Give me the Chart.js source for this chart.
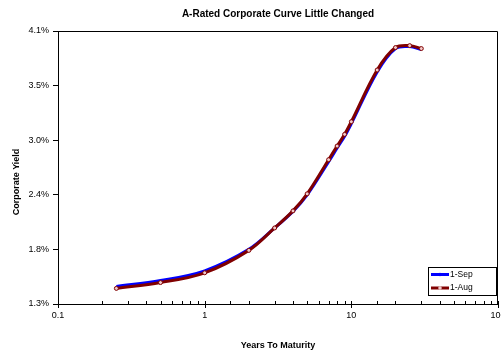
<!DOCTYPE html>
<html>
<head>
<meta charset="utf-8">
<script src="https://cdn.jsdelivr.net/npm/chart.js@4/dist/chart.umd.min.js"></script>
<style>
  html, body { margin: 0; padding: 0; background: #fff; }
  canvas { display: block; }
</style>
</head>
<body>
<canvas id="myChart" width="501" height="354"></canvas>
<script>
// data
const maturities = [0.25, 0.5, 1, 2, 3, 4, 5, 7, 8, 9, 10, 15, 20, 25, 30];
const sepYields = [1.46, 1.52, 1.62, 1.84, 2.06, 2.23, 2.40, 2.74, 2.88, 3.00, 3.13, 3.66, 3.90, 3.92, 3.89];
const augYields = [1.44, 1.50, 1.60, 1.83, 2.06, 2.235, 2.41, 2.76, 2.90, 3.02, 3.15, 3.68, 3.91, 3.93, 3.90];
const seriesLabels = ['1-Sep', '1-Aug'];

const yTickValues = [1.28, 1.84, 2.40, 2.96, 3.52, 4.08];
const yTickLabels = ['1.3%', '1.8%', '2.4%', '3.0%', '3.5%', '4.1%'];
const xLabelledTicks = [0.1, 1, 10, 100];

const fontFamily = "'Liberation Sans', Arial, sans-serif";

const toPoints = (ys) => maturities.map((m, i) => ({ x: m, y: ys[i] }));
const isDecade = (v) => xLabelledTicks.some(t => Math.abs(t - v) < 1e-9 * t);

// box around the plot (top + right edges), x tick marks, y axis title
const plotFrame = {
    id: 'plotFrame',
    beforeDatasetsDraw(chart) {
        const { ctx, chartArea: a } = chart;
        const xs = chart.scales.x;
        ctx.save();
        ctx.strokeStyle = '#000';
        ctx.lineWidth = 1;
        ctx.beginPath();
        ctx.moveTo(Math.round(a.left) + 0.5, Math.round(a.top) + 0.5);
        ctx.lineTo(Math.round(a.right) - 0.5, Math.round(a.top) + 0.5);
        ctx.lineTo(Math.round(a.right) - 0.5, Math.round(a.bottom));
        ctx.stroke();

        // excel style ticks: minor inside, major crossing
        const yb = Math.round(a.bottom);
        ctx.beginPath();
        xs.ticks.forEach(t => {
            const px = Math.round(xs.getPixelForValue(t.value)) + 0.5;
            if (isDecade(t.value)) {
                ctx.moveTo(px, yb - 3);
                ctx.lineTo(px, yb + 4);
            } else {
                ctx.moveTo(px, yb - 3);
                ctx.lineTo(px, yb);
            }
        });
        ctx.stroke();

        ctx.translate(17, 182);
        ctx.rotate(-Math.PI / 2);
        ctx.fillStyle = '#000';
        ctx.font = 'bold 9px ' + fontFamily;
        ctx.textAlign = 'center';
        ctx.textBaseline = 'middle';
        ctx.fillText('Corporate Yield', 0, 0);
        ctx.restore();
    }
};

// legend box inside the plot, bottom right
const boxLegend = {
    id: 'boxLegend',
    afterDraw(chart) {
        const { ctx, chartArea: a } = chart;
        const w = 68, h = 28;
        const x0 = Math.round(a.right) - 70, y0 = Math.round(a.bottom) - 37;
        ctx.save();
        ctx.fillStyle = '#fff';
        ctx.fillRect(x0, y0, w, h);
        ctx.strokeStyle = '#000';
        ctx.lineWidth = 1;
        ctx.strokeRect(x0 + 0.5, y0 + 0.5, w, h);
        ctx.font = '8.5px ' + fontFamily;
        ctx.textBaseline = 'middle';
        chart.data.datasets.forEach((ds, i) => {
            const y = y0 + 7.5 + i * 13.5;
            ctx.strokeStyle = ds.borderColor;
            ctx.lineWidth = 3;
            ctx.beginPath();
            ctx.moveTo(x0 + 3, y);
            ctx.lineTo(x0 + 21, y);
            ctx.stroke();
            ctx.lineWidth = 1;
            ctx.fillStyle = ds.pointBackgroundColor;
            ctx.beginPath();
            ctx.arc(x0 + 12, y, 1.8, 0, Math.PI * 2);
            ctx.fill();
            ctx.fillStyle = '#000';
            ctx.fillText(ds.label, x0 + 22, y);
        });
        ctx.restore();
    }
};

var myChart = new Chart(document.getElementById('myChart'), {
    type: 'line',
    data: {
        datasets: [
            {
                label: seriesLabels[0],
                data: toPoints(sepYields),
                borderColor: '#0000ff',
                backgroundColor: '#0000ff',
                pointBackgroundColor: '#0000ff',
                pointBorderColor: '#0000ff',
                borderWidth: 3,
                pointRadius: 0,
                tension: 0.35,
                order: 2,
            },
            {
                label: seriesLabels[1],
                data: toPoints(augYields),
                borderColor: '#800000',
                backgroundColor: '#800000',
                pointBackgroundColor: '#f0c8c8',
                pointBorderColor: '#800000',
                pointBorderWidth: 1,
                borderWidth: 3,
                pointRadius: 2,
                tension: 0.35,
                order: 1,
            }
        ]
    },
    options: {
        responsive: false,
        animation: false,
        layout: { autoPadding: false, padding: { right: 3, left: 0, top: 0, bottom: 0 } },
        plugins: {
            legend: { display: false },
            tooltip: { enabled: false },
            title: {
                display: true,
                fullSize: false,
                text: 'A-Rated Corporate Curve Little Changed',
                color: '#000',
                font: { family: fontFamily, size: 10, weight: 'bold' },
                padding: { top: 8, bottom: 11 },
            }
        },
        scales: {
            x: {
                type: 'logarithmic',
                min: 0.1,
                max: 100,
                border: { display: true, color: '#000', width: 1 },
                grid: { display: false, drawOnChartArea: false, drawTicks: false },
                ticks: {
                    autoSkip: false,
                    maxRotation: 0,
                    color: '#000',
                    padding: 6,
                    font: { family: fontFamily, size: 9 },
                    callback: (v) => {
                        const hit = xLabelledTicks.find(t => Math.abs(t - v) < 1e-9 * t);
                        return hit !== undefined ? String(hit) : '';
                    }
                },
                title: {
                    display: true,
                    text: 'Years To Maturity',
                    color: '#000',
                    font: { family: fontFamily, size: 9, weight: 'bold' },
                    padding: { top: 0, bottom: 3 },
                },
                afterFit: (s) => { s.height = 50; s.paddingLeft = 0; s.paddingRight = 0; }
            },
            y: {
                min: 1.28,
                max: 4.08,
                afterBuildTicks: (s) => { s.ticks = yTickValues.map(v => ({ value: v })); },
                border: { display: true, color: '#000', width: 1 },
                grid: { display: true, drawOnChartArea: false, drawTicks: true, tickLength: 5, color: '#000' },
                ticks: {
                    color: '#000',
                    padding: 4,
                    font: { family: fontFamily, size: 9 },
                    callback: (v, i) => yTickLabels[i]
                },
                afterFit: (s) => { s.width = 58; s.paddingTop = 0; s.paddingBottom = 0; }
            }
        }
    },
    plugins: [plotFrame, boxLegend]
});
</script>
</body>
</html>
